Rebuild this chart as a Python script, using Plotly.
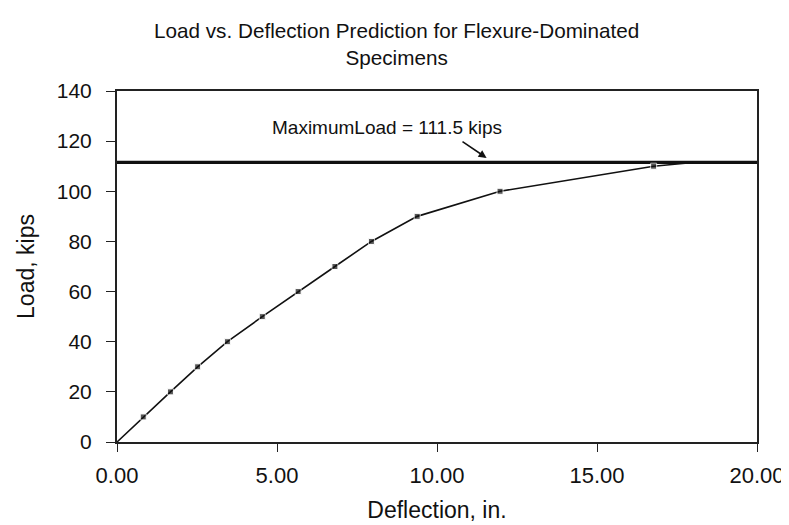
import plotly.graph_objects as go

# Data
deflection_in = [0.0, 0.82, 1.67, 2.52, 3.45, 4.54, 5.66, 6.81, 7.95, 9.38, 11.97, 16.77, 18.0]
load_kips = [0, 10, 20, 30, 40, 50, 60, 70, 80, 90, 100, 110, 111.5]
marker_sizes = [0, 6, 6, 6, 6, 6, 6, 6, 6, 6, 6, 6, 0]

max_load = 111.5
max_load_x = [0, 20]

x_ticks = [0, 5, 10, 15, 20]
y_ticks = [0, 20, 40, 60, 80, 100, 120, 140]

title_text = "Load vs. Deflection Prediction for Flexure-Dominated<br>Specimens"
note_text = "MaximumLoad = 111.5 kips"

FONT = "Liberation Sans, Arial, sans-serif"
INK = "#111111"

fig = go.Figure()

fig.add_trace(go.Scatter(
    x=max_load_x, y=[max_load, max_load], mode="lines",
    line=dict(color=INK, width=3.2), hoverinfo="skip", showlegend=False,
))

fig.add_trace(go.Scatter(
    x=deflection_in, y=load_kips, mode="lines+markers",
    line=dict(color=INK, width=1.6),
    marker=dict(symbol="square", size=marker_sizes, color=INK),
    showlegend=False,
))

# Chart title (as annotation to keep the two lines fully visible)
fig.add_annotation(
    x=0.437, y=1.134, xref="paper", yref="paper",
    xanchor="center", yanchor="middle",
    text=title_text, showarrow=False,
    font=dict(family=FONT, size=20.7, color=INK),
)

fig.add_annotation(
    x=8.45, y=125.6, xref="x", yref="y",
    text=note_text, showarrow=False,
    font=dict(family=FONT, size=19, color=INK),
)
fig.add_annotation(
    x=11.55, y=113.3, xref="x", yref="y",
    ax=10.75, ay=120.2, axref="x", ayref="y",
    text="", showarrow=True, arrowhead=2, arrowsize=1, arrowwidth=1.6,
    arrowcolor=INK,
)

fig.update_layout(
    width=789, height=525,
    paper_bgcolor="white", plot_bgcolor="white",
    margin=dict(l=109, r=32, t=83, b=91),
    font=dict(family=FONT, color=INK),
)

fig.update_xaxes(
    range=[0, 20], tickvals=x_ticks, tickformat=".2f",
    showgrid=False, zeroline=False,
    showline=True, linecolor="#222222", linewidth=2, mirror=True,
    ticks="outside", ticklen=8, tickwidth=1, tickcolor="#222222",
    tickfont=dict(family=FONT, size=22, color=INK),
    ticklabelstandoff=5,
    title=dict(text="Deflection, in.", font=dict(family=FONT, size=23, color=INK), standoff=14),
)

fig.update_yaxes(
    range=[0, 140], tickvals=y_ticks,
    showgrid=False, zeroline=False,
    showline=True, linecolor="#222222", linewidth=2, mirror=True,
    ticks="outside", ticklen=9, tickwidth=1, tickcolor="#222222",
    tickfont=dict(family=FONT, size=21, color=INK),
    ticklabelstandoff=10,
    title=dict(text="Load, kips", font=dict(family=FONT, size=23, color=INK), standoff=16),
)

fig.write_html("out.html")
